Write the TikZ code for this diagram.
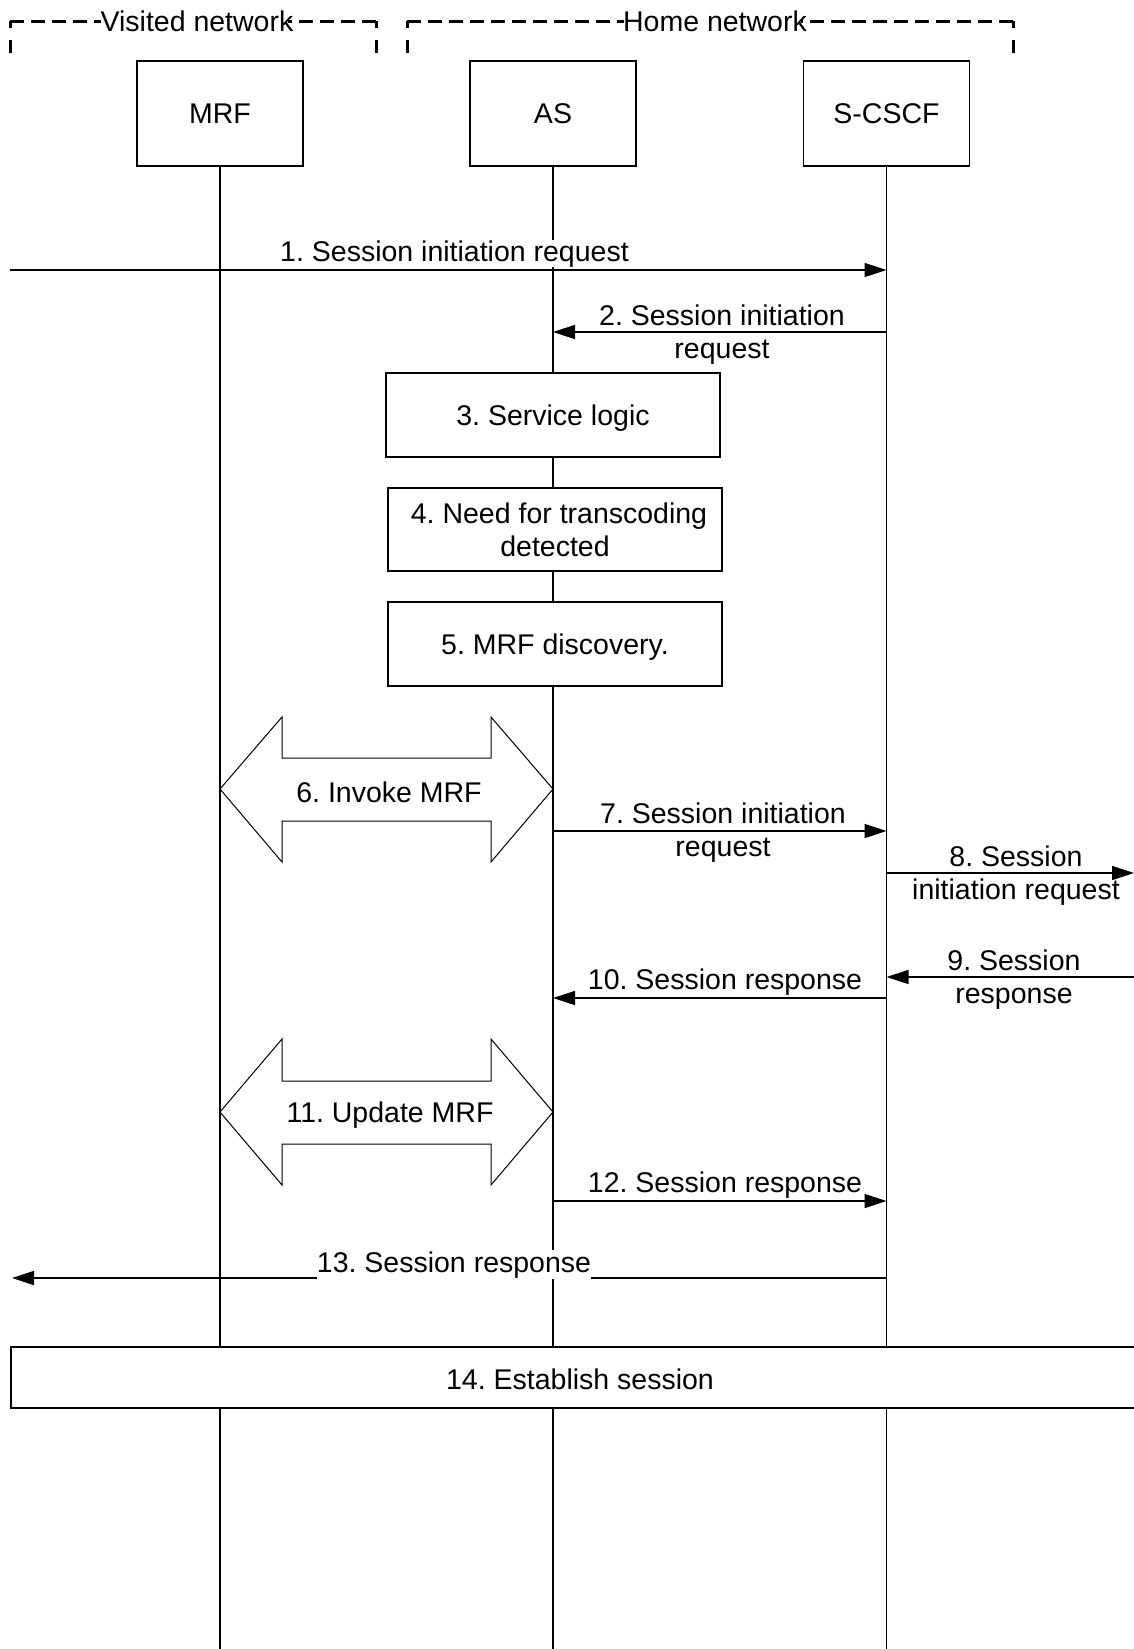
\documentclass[tikz,border=0pt]{standalone}
\usepackage{fontspec}
\setmainfont{Liberation Sans}
\usetikzlibrary{arrows.meta}
\frenchspacing
\begin{document}
\begin{tikzpicture}[x=1pt,y=-1pt,
  every node/.style={font=\fontsize{28.5pt}{33pt}\selectfont\frenchspacing, inner sep=0pt},
  ent/.style={draw, line width=1.6pt, fill=white, minimum width=166pt, minimum height=105pt},
  stepbox/.style={draw, line width=1.6pt, fill=white, align=center, minimum width=334pt, minimum height=84pt},
  life/.style={line width=1.3pt},
  msg/.style={line width=1.6pt, -{Triangle[length=22pt,width=14pt]}},
  lbl/.style={align=center},
  lblw/.style={fill=white},
  hdash/.style={line width=3pt, dash pattern=on 14pt off 7pt},
  vdash/.style={line width=3pt, dash pattern=on 13pt off 12pt on 10pt off 20pt},
  bigarrow/.style={draw, line width=1pt, fill=white}
]
\useasboundingbox (0,0) rectangle (1134,1649);

% network brackets
\node (vis) at (197,21) {Visited network};
\node (home) at (715,21) {Home network};
\coordinate (vl) at (10,21);
\coordinate (vr) at (376,21);
\coordinate (hl) at (407,21);
\coordinate (hr) at (1013,21);
\draw[hdash] (vl) -- ([xshift=1pt]vis.west);
\draw[hdash] (vr) -- ([xshift=-6pt]vis.east);
\draw[hdash] (hl) -- ([xshift=1pt]home.west);
\draw[hdash] (hr) -- ([xshift=-6pt]home.east);
\draw[vdash] (10,53) -- (vl);
\draw[vdash] (376,53) -- (vr);
\draw[vdash] (407,53) -- (hl);
\draw[vdash] (1013,53) -- (hr);

% entities
\node[ent] (mrf) at (220,113.5) {MRF};
\node[ent] (as) at (553,113.5) {AS};
\node[ent] (scscf) at (886.5,113.5) {S-CSCF};

% lifelines
\coordinate (mrfend) at (220,1649);
\coordinate (asend) at (553,1649);
\coordinate (scend) at (886.5,1649);
\draw[life] (mrf.south) -- (mrfend);
\draw[life] (as.south) -- (asend);
\draw[life] (scscf.south) -- (scend);

% message end points
\coordinate (in1) at (10,270);
\coordinate (sc1) at (886.5,270);
\coordinate (sc2) at (886.5,332);
\coordinate (as2) at (553,332);
\coordinate (as7) at (553,831);
\coordinate (sc7) at (886.5,831);
\coordinate (sc8) at (886.5,873);
\coordinate (out8) at (1134,873);
\coordinate (in9) at (1134,977);
\coordinate (sc9) at (886.5,977);
\coordinate (sc10) at (886.5,998);
\coordinate (as10) at (553,998);
\coordinate (as12) at (553,1201);
\coordinate (sc12) at (886.5,1201);
\coordinate (sc13) at (886.5,1278);
\coordinate (out13) at (12,1278);

% messages
\draw[msg] (in1) -- (sc1);
\node[lblw, anchor=base] (l1) at (454.5,261) {1. Session initiation request};
\draw[msg] (sc2) -- (as2);
\node[lbl] (l2) at (722,335) {2. Session initiation\\request};

% steps on AS
\node[stepbox, text depth=0pt] (s3) at (553,415) {3. Service logic};
\node[stepbox, minimum height=83pt] (s4) at (555,529.5) {\hspace*{8pt}4. Need for transcoding\\detected};
\node[stepbox, text depth=0pt] (s5) at (555,644) {5. MRF discovery.};

% invoke MRF
\path[bigarrow] (220,789) -- (282,717) -- (282,758) -- (491,758) -- (491,717) -- (553,789)
  -- (491,862) -- (491,821) -- (282,821) -- (282,862) -- cycle;
\node (l6) at (389,792) {6. Invoke MRF};

\draw[msg] (as7) -- (sc7);
\node[lbl] (l7) at (723,832.5) {7. Session initiation\\request};
\draw[msg] (sc8) -- (out8);
\node[lbl] (l8) at (1016,876) {8. Session\\initiation request};
\draw[msg] (in9) -- (sc9);
\node[lbl] (l9) at (1014,979.5) {9. Session\\response};
\draw[msg] (sc10) -- (as10);
\node[anchor=base] (l10) at (725,989) {10. Session response};

% update MRF
\path[bigarrow] (220,1112) -- (282,1039) -- (282,1081) -- (491,1081) -- (491,1039) -- (553,1112)
  -- (491,1185) -- (491,1144) -- (282,1144) -- (282,1185) -- cycle;
\node (l11) at (390,1115) {11. Update MRF};

\draw[msg] (as12) -- (sc12);
\node[anchor=base] (l12) at (725,1192) {12. Session response};
\draw[msg] (sc13) -- (out13);
\node[lblw, anchor=base, inner ysep=1pt] (l13) at (454,1272) {13. Session response};

% establish session
\node[draw, line width=1.6pt, fill=white, minimum width=1139pt, minimum height=61pt] (s14) at (580.5,1377.5) {};
\node (l14) at (580,1379) {14. Establish session};
\end{tikzpicture}
\end{document}
